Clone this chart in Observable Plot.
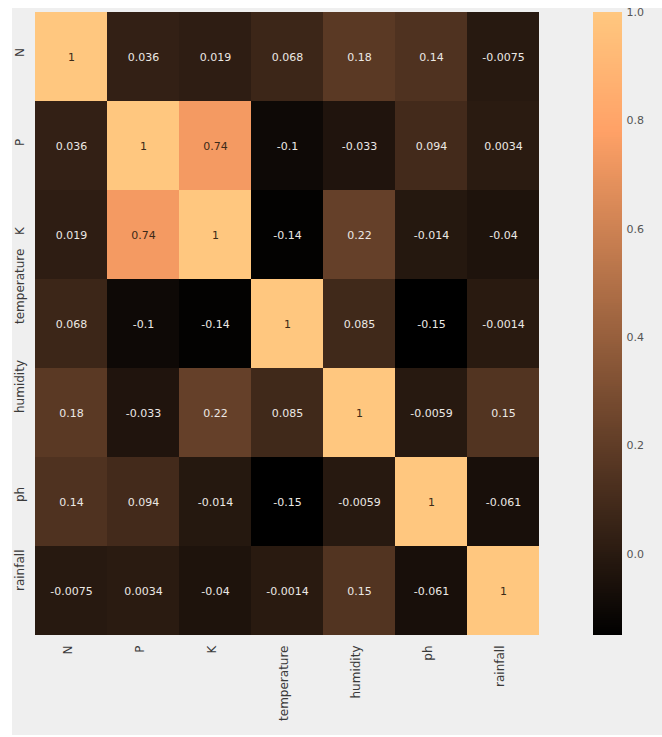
<!DOCTYPE html>
<html>
<head>
<meta charset="utf-8">
<script src="https://cdn.jsdelivr.net/npm/d3@7"></script>
<script src="https://cdn.jsdelivr.net/npm/@observablehq/plot@0.6"></script>
<style>
  html, body { margin: 0; padding: 0; background: #ffffff; }
  #fig { position: relative; width: 662px; height: 737px; overflow: hidden; }
  #panel { position: absolute; left: 12px; top: 8px; right: 0; bottom: 2px; background: #efefef; }
  #heat, #bar { position: absolute; top: 0; }
  #heat { left: 0; }
  #bar { left: 560px; }
</style>
</head>
<body>
<div id="fig">
  <div id="panel"></div>
  <div id="heat"></div>
  <div id="bar"></div>
</div>
<script>
// Feature names (rows and columns of the correlation matrix)
const features = ["N", "P", "K", "temperature", "humidity", "ph", "rainfall"];

// Pairwise correlations, one array per row
const corrN           = [1, 0.036, 0.019, 0.068, 0.18, 0.14, -0.0075];
const corrP           = [0.036, 1, 0.74, -0.1, -0.033, 0.094, 0.0034];
const corrK           = [0.019, 0.74, 1, -0.14, 0.22, -0.014, -0.04];
const corrTemperature = [0.068, -0.1, -0.14, 1, 0.085, -0.15, -0.0014];
const corrHumidity    = [0.18, -0.033, 0.22, 0.085, 1, -0.0059, 0.15];
const corrPh          = [0.14, 0.094, -0.014, -0.15, -0.0059, 1, -0.061];
const corrRainfall    = [-0.0075, 0.0034, -0.04, -0.0014, 0.15, -0.061, 1];

// Colour bar tick values
const barTicks = [0, 0.2, 0.4, 0.6, 0.8, 1.0];

const rows = [corrN, corrP, corrK, corrTemperature, corrHumidity, corrPh, corrRainfall];
const cells = features.flatMap((r, i) =>
  rows[i].map((v, j) => ({row: r, col: features[j], value: v}))
);

const vmin = d3.min(cells, d => d.value);
const vmax = d3.max(cells, d => d.value);

// matplotlib "copper" colormap
const copper = t => d3.rgb(
  255 * Math.min(1, t / 0.809524),
  255 * 0.7812 * t,
  255 * 0.4975 * t
).formatHex();

// Annotation colour follows the relative luminance of the cell colour
function luminance(hex) {
  const c = d3.rgb(hex);
  const lin = v => { v /= 255; return v <= 0.03928 ? v / 12.92 : Math.pow((v + 0.055) / 1.055, 2.4); };
  return 0.2126 * lin(c.r) + 0.7152 * lin(c.g) + 0.0722 * lin(c.b);
}
const isLight = v => luminance(copper((v - vmin) / (vmax - vmin))) > 0.408;

const font = "DejaVu Sans, sans-serif";
const colorScale = {type: "linear", domain: [vmin, vmax], interpolate: copper};

const W = 560, H = 737, ML = 33, MR = 19, MT = 12, MB = 102;

const heat = Plot.plot({
  width: W, height: H,
  marginLeft: ML, marginRight: MR, marginTop: MT, marginBottom: MB,
  style: {background: "transparent", fontFamily: font},
  x: {domain: features, padding: 0, axis: null},
  y: {domain: features, padding: 0, axis: null},
  color: colorScale,
  marks: [
    Plot.cell(cells, {x: "col", y: "row", fill: "value", inset: 0}),
    Plot.text(cells.filter(d => !isLight(d.value)), {
      x: "col", y: "row", text: d => String(d.value),
      fill: "#ece8e4", fontSize: 11
    }),
    Plot.text(cells.filter(d => isLight(d.value)), {
      x: "col", y: "row", text: d => String(d.value),
      fill: "#3c2a18", fontSize: 11
    }),
    // row labels, rotated
    Plot.text(features, {
      y: d => d, frameAnchor: "left", dx: -13, rotate: -90,
      fill: "#3a3a3a", fontSize: 12
    }),
    // column labels, rotated
    Plot.text(features, {
      x: d => d, frameAnchor: "bottom", dy: 10, rotate: -90, textAnchor: "end",
      fill: "#3a3a3a", fontSize: 12
    })
  ]
});
document.getElementById("heat").appendChild(heat);

// Colour bar: thin horizontal slices stacked from vmin to vmax
const nSteps = 300;
const step = (vmax - vmin) / nSteps;
const slices = d3.range(nSteps).map(i => vmin + i * step);

const bar = Plot.plot({
  width: 102, height: H,
  marginLeft: 33, marginRight: 40, marginTop: MT, marginBottom: MB,
  style: {background: "transparent", fontFamily: font},
  x: {axis: null},
  y: {domain: [vmin, vmax], axis: null},
  color: colorScale,
  marks: [
    Plot.rect(slices, {
      y1: d => d, y2: d => Math.min(vmax, d + step * 1.5),
      fill: d => d + step / 2, shapeRendering: "crispEdges"
    }),
    Plot.axisY({
      anchor: "right", ticks: barTicks, tickFormat: d3.format(".1f"),
      tickSize: 0, tickPadding: 4, fontSize: 11, color: "#555", label: null
    })
  ]
});
document.getElementById("bar").appendChild(bar);
</script>
</body>
</html>
